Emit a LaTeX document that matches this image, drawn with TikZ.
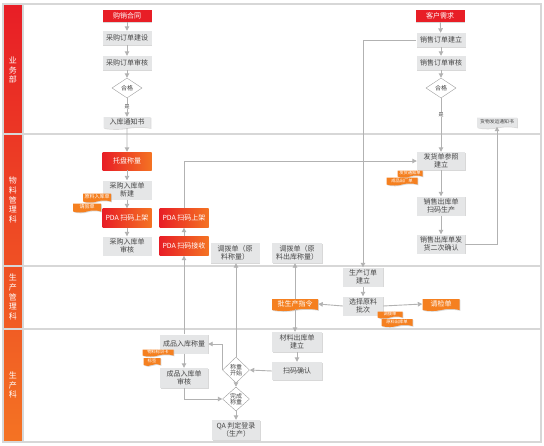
\documentclass[tikz,border=0pt]{standalone}
\usepackage{fontspec}
\newfontfamily\cjk{Noto Sans CJK SC}
\usetikzlibrary{shapes.geometric,shapes.symbols,arrows.meta,shadows}
\definecolor{lred}{RGB}{232,30,38}
\definecolor{lorange}{RGB}{244,115,35}
\definecolor{boxgray}{RGB}{229,230,231}
\definecolor{txtgray}{RGB}{70,70,70}
\definecolor{linegray}{RGB}{178,178,178}
\definecolor{framegray}{RGB}{215,215,215}
\definecolor{tagor}{RGB}{245,128,32}
\begin{document}
\begin{tikzpicture}[x=1pt,y=-1pt,
  every node/.style={font=\cjk\fontsize{7}{8}\selectfont, inner sep=1pt, align=center},
  shad/.style={drop shadow={shadow xshift=0.8pt,shadow yshift=-0.8pt,fill=black!30,opacity=0.5}},
  gbox/.style={shad, fill=boxgray, text=txtgray, minimum width=49pt, minimum height=#1},
  gbox/.default=14pt,
  rbox/.style={shad, fill=lred, text=white, minimum width=49pt, minimum height=12pt},
  obox/.style={shad, left color=lred, right color=lorange, text=white, minimum width=49pt, minimum height=19pt},
  dia/.style={diamond, draw=gray!75, fill=white, minimum width=#1, inner sep=0pt, font=\cjk\fontsize{6}{6.5}\selectfont, text=txtgray},
  doc/.style={tape, tape bend top=none, tape bend bottom=in and out, tape bend height=2pt, shad, inner sep=0.5pt},
  gdoc/.style={doc, fill=boxgray, text=txtgray},
  odoc/.style={doc, fill=tagor, text=white},
  tag/.style={doc, fill=tagor, text=white, font=\cjk\fontsize{4.3}{5}\selectfont, minimum height=7pt, inner sep=0.3pt},
  flow/.style={draw=linegray, line width=0.9pt, -{Triangle[length=4.5pt,width=4.5pt]}},
  lane/.style={text=white, font=\cjk\fontsize{8}{9.6}\selectfont},
  yes/.style={font=\cjk\fontsize{5}{6}\selectfont, text=txtgray, fill=white, inner sep=0.3pt}
]
\useasboundingbox (0,0) rectangle (544,445);
% lanes
\shade[top color=lred, bottom color=lorange] (3,5) rectangle (23,442);
\draw[framegray, line width=1.5pt] (3,4) rectangle (541,442);
\draw[framegray, line width=1.2pt] (23,4) -- (23,442);
\foreach \yy in {134,266,329} \draw[framegray, line width=1.5pt] (3,\yy) -- (541,\yy);
\node[lane] (l1) at (13,70) {业\\务\\部};
\node[lane] (l2) at (13,200) {物\\料\\管\\理\\科};
\node[lane] (l3) at (13,297) {生\\产\\管\\理\\科};
\node[lane] (l4) at (13,385) {生\\产\\科};

% lane 1
\node[rbox] (hetong) at (127,16) {购销合同};
\node[gbox] (cgjs) at (127,38) {采购订单建设};
\node[gbox] (cgsh) at (127,63) {采购订单审核};
\node[dia=30pt, minimum height=20pt] (hg1) at (127,88) {合格};
\node[gdoc, minimum width=47pt, minimum height=12pt] (rktz) at (127,122) {入库通知书};
\node[rbox] (kehu) at (440,16) {客户需求};
\node[gbox] (xsjl) at (441,40) {销售订单建立};
\node[gbox] (xssh) at (441,63) {销售订单审核};
\node[dia=30pt, minimum height=20pt] (hg2) at (441,88) {合格};
\node[gdoc, minimum width=40pt, minimum height=11pt, font=\cjk\fontsize{4.8}{5.5}\selectfont] (hwfy) at (497,122) {货物发运通知书};

% lane 2
\node[obox, minimum height=18pt] (tpcl) at (127,161) {托盘称量};
\node[gbox=19pt] (cgxj) at (127,190) {采购入库单\\新建};
\node[obox] (pda1) at (127,218) {PDA 扫码上架};
\node[gbox=19pt] (cgsh2) at (127,246) {采购入库单\\审核};
\node[obox] (pda2) at (184,218) {PDA 扫码上架};
\node[obox] (pdajs) at (184,246) {PDA 扫码接收};
\node[gbox=20pt] (dbd1) at (235,253) {调拨单（原\\料称量）};
\node[gbox=20pt, minimum width=50pt] (dbd2) at (297,253) {调拨单（原\\料出库称量）};
\node[gbox=18pt, minimum width=48pt] (fhd) at (441,161) {发货单参照\\建立};
\node[gbox=19pt, minimum width=48pt] (xsck) at (441,206) {销售出库单\\扫码生产};
\node[gbox=19pt, minimum width=48pt] (xsqr) at (441,244) {销售出库单发\\货二次确认};
\node[tag, minimum width=28pt, minimum height=9pt, font=\cjk\fontsize{5}{5.5}\selectfont] (t1) at (97,197) {原料入库单};
\node[tag, minimum width=28pt, minimum height=9pt, font=\cjk\fontsize{5}{5.5}\selectfont] (t2) at (87,207) {请验单};
\node[tag, minimum width=25pt] (t3) at (410,173) {发货通知单};
\node[tag, minimum width=31pt, minimum height=8pt] (t4) at (402,180.5) {成品出厂单};

% lane 3
\node[gbox=19pt, minimum width=40pt] (scdd) at (363,277) {生产订单\\建立};
\node[gbox=19pt, minimum width=40pt] (xzyl) at (363,306) {选择原料\\批次};
\node[odoc, minimum width=37pt, minimum height=12pt] (qjd) at (441,304) {请检单};
\node[odoc, minimum width=46pt, minimum height=12pt] (psc) at (295,304) {批生产指令};
\node[tag, minimum width=25pt] (t5) at (390,314) {调拨单};
\node[tag, minimum width=31pt, minimum height=8pt] (t6) at (397,322) {原料出库单};

% lane 4
\node[gbox=19pt, minimum width=48pt] (cpcl) at (184,344) {成品入库称量};
\node[gbox=20pt, minimum width=48pt] (cpsh) at (184,378) {成品入库单\\审核};
\node[tag, minimum width=31pt] (t7) at (158,352) {物料标识卡};
\node[tag, minimum width=17pt, minimum height=8pt] (t8) at (152,361) {标签};
\node[dia=27pt, minimum height=26pt] (czks) at (236,370) {称重\\开始};
\node[dia=27pt, minimum height=19pt] (wccz) at (236,399) {完成\\称重};
\node[gbox=20pt, minimum width=48pt] (qa) at (236,430) {QA 判定登录\\（生产）};
\node[gbox=20pt, minimum width=50pt] (clck) at (297,342) {材料出库单\\建立};
\node[gbox=18pt, minimum width=50pt] (smqr) at (297,371) {扫码确认};

% connectors
\draw[flow] (hetong) -- (cgjs);
\draw[flow] (cgjs) -- (cgsh);
\draw[flow] (cgsh) -- (hg1);
\draw[flow] (hg1) -- node[yes, pos=0.45] (y1) {是} (rktz);
\draw[flow] (rktz) -- (tpcl);
\draw[flow] (kehu) -- (xsjl);
\draw[flow] (xsjl) -- (xssh);
\draw[flow] (xssh) -- (hg2);
\draw[flow] (hg2) -- node[yes, pos=0.3] (y2) {是} (fhd);
\draw[flow] (xsjl.west) -| (scdd.north);
\draw[flow] (tpcl) -- (cgxj);
\draw[flow] (cgxj) -- (pda1);
\draw[flow] (pda1) -- (cgsh2);
\draw[flow] (pdajs) -- (pda2);
\draw[flow] (pda2.north) |- (fhd.west);
\draw[flow] (cpcl) -- (pdajs);
\draw[flow] (fhd) -- (xsck);
\draw[flow] (xsck) -- (xsqr);
\draw[flow] (xsqr.east) -| (hwfy.south);
\draw[flow] (scdd) -- (xzyl);
\draw[flow] (xzyl.east) -- (qjd.west);
\draw[flow] (xzyl.west) -- (psc.east);
\draw[flow] (psc.north) -- (psc.north |- dbd2.south);
\draw[flow] (psc.south) -- (psc.south |- clck.north);
\draw[flow] (clck) -- (smqr);
\draw[flow] (smqr.west) -- (czks.east);
\draw[flow] (czks.north) -- (czks.north |- dbd1.south);
\draw[flow] (czks.west) |- (cpcl.east);
\draw[flow] (cpcl) -- (cpsh);
\draw[flow] (cpsh.south) |- (wccz.west);
\draw[flow] (czks) -- (wccz);
\draw[flow] (wccz) -- (qa);
\end{tikzpicture}
\end{document}
